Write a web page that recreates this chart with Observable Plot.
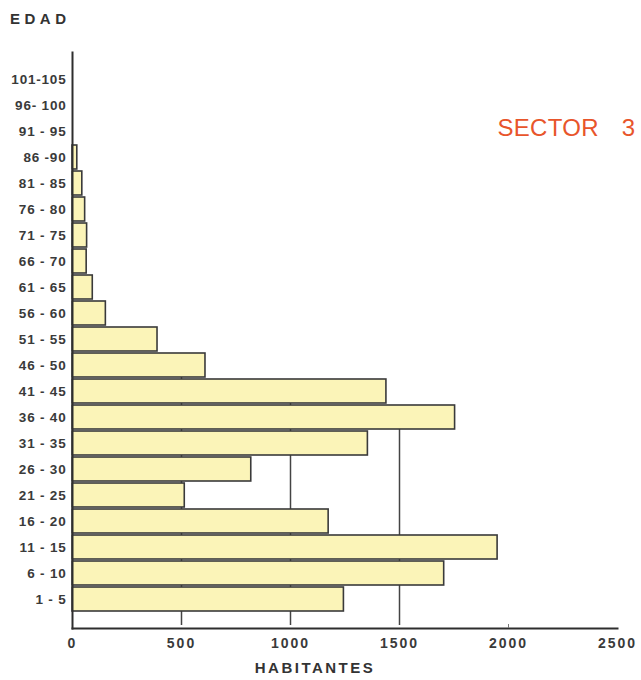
<!DOCTYPE html>
<html>
<head>
<meta charset="utf-8">
<script src="https://cdn.jsdelivr.net/npm/d3@7"></script>
<script src="https://cdn.jsdelivr.net/npm/@observablehq/plot@0.6"></script>
<style>
  body { margin: 0; background: #fff; font-family: "Liberation Sans", Arial, sans-serif; }
  #edad { height: 36px; line-height: 38px; padding-left: 10px; font-weight: bold; font-size: 15px; letter-spacing: 4.5px; color: #333; }
  svg text { letter-spacing: 0.8px; }
</style>
</head>
<body>
<div id="edad"></div>
<div id="chart"></div>
<script>
const titleText = "EDAD";
const axisTitle = "HABITANTES";
const sectorLabel = "SECTOR 3";
const ageGroups = ["101-105","96-100","91-95","86-90","81-85","76-80","71-75","66-70","61-65","56-60","51-55","46-50","41-45","36-40","31-35","26-30","21-25","16-20","11-15","6-10","1-5"];
const ageLabels = ["101-105","96- 100","91 - 95","86 -90","81 - 85","76 - 80","71 - 75","66 - 70","61 - 65","56 - 60","51 - 55","46 - 50","41 - 45","36 - 40","31 - 35","26 - 30","21 - 25","16 - 20","11 - 15","6 - 10","1 - 5"];
const habitantes = [0,0,0,22,45,58,67,65,93,153,390,610,1440,1755,1355,820,515,1175,1950,1705,1245];
const xTicks = [0,500,1000,1500,2000,2500];
const gridValues = [500,1000,1500];
const gridTops = ["46-50","41-45","36-40"];
const gridBottom = "1-5";
const minorTicks = [2000];

document.getElementById("edad").textContent = titleText;

const data = ageGroups.map((age, i) => ({age, value: habitantes[i]}));
const grid = gridValues.map((x, i) => ({x, top: gridTops[i], bottom: gridBottom}));
const labelOf = new Map(ageGroups.map((a, i) => [a, ageLabels[i]]));

const chart = Plot.plot({
  width: 641,
  height: 644,
  marginLeft: 72,
  marginRight: 24,
  marginTop: 16,
  marginBottom: 52,
  style: {fontFamily: "'Liberation Sans', Arial, sans-serif", fontSize: "13.5px", fontWeight: "bold", color: "#3a3a3a", background: "#fff"},
  x: {domain: [0, 2500]},
  y: {domain: ageGroups, paddingInner: 0.08, paddingOuter: 0.04, insetTop: 10, insetBottom: 12},
  marks: [
    Plot.ruleX(grid, {x: "x", y1: "top", y2: "bottom", insetBottom: -14, stroke: "#444", strokeWidth: 1.5}),
    Plot.barX(data, {y: "age", x: "value", fill: "#fbf4b8", stroke: "#3a3a3a", strokeWidth: 1.6}),
    Plot.frame({anchor: "left", stroke: "#2e2e2e", strokeWidth: 2}),
    Plot.frame({anchor: "bottom", stroke: "#2e2e2e", strokeWidth: 2}),
    Plot.axisY({tickSize: 0, tickPadding: 6, tickFormat: d => labelOf.get(d), label: null}),
    Plot.axisX({ticks: xTicks, tickSize: 0, tickPadding: 10, tickFormat: d => String(d), fontSize: 14, label: null}),
    Plot.axisX({ticks: minorTicks, tickSize: -4, tickFormat: () => "", label: null, stroke: "#777"}),
    Plot.text([sectorLabel], {frameAnchor: "top-right", text: d => d, dx: 18, dy: 76, textAnchor: "end", lineAnchor: "middle", fill: "#e8552b", fontSize: 24, fontWeight: "normal"}),
    Plot.text([axisTitle], {frameAnchor: "bottom", text: d => d, dx: -30, dy: 40, lineAnchor: "middle", fill: "#333", fontSize: 15, fontWeight: "bold"})
  ]
});
d3.select(chart).selectAll("text").each(function() {
  const t = this.textContent;
  if (t === sectorLabel) this.style.wordSpacing = "16px", this.style.letterSpacing = "0.3px";
  else if (t === axisTitle) this.style.letterSpacing = "2.5px";
  else if (xTicks.map(String).includes(t)) this.style.letterSpacing = "2px";
});
document.getElementById("chart").appendChild(chart);
</script>
</body>
</html>
